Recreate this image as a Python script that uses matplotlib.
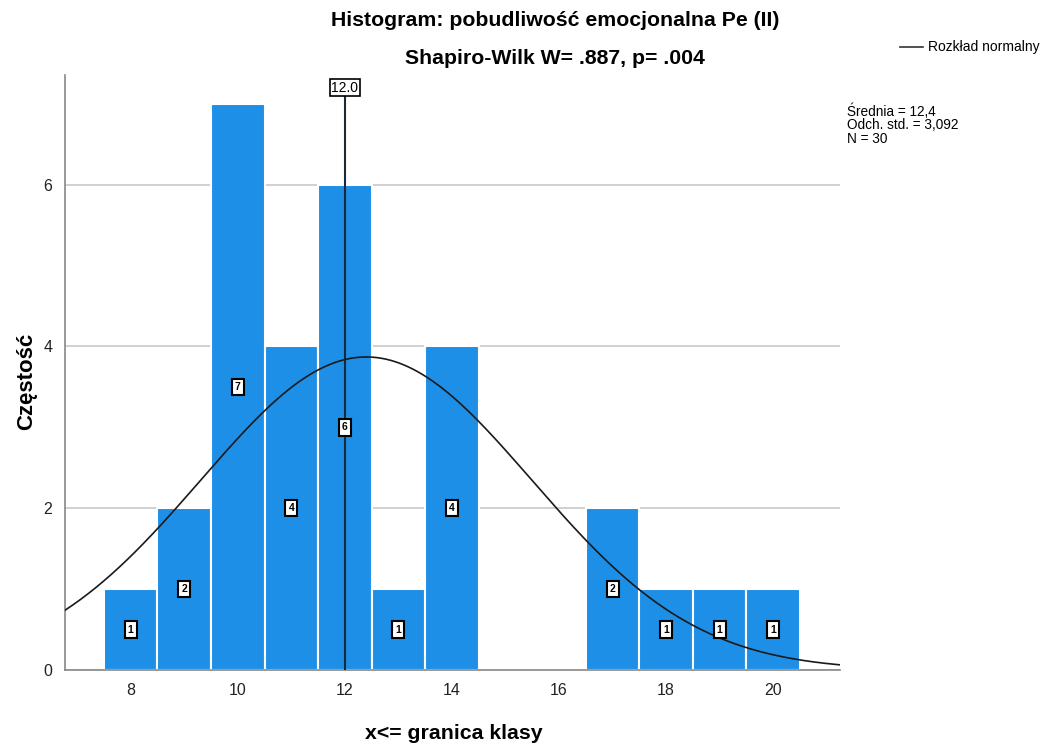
import matplotlib.pyplot as plt
import numpy as np

plt.rcParams['font.family'] = ['Liberation Sans', 'DejaVu Sans']

# class upper bounds and their frequencies
classes = [8, 9, 10, 11, 12, 13, 14, 15, 16, 17, 18, 19, 20]
counts = [1, 2, 7, 4, 6, 1, 4, 0, 0, 2, 1, 1, 1]
mean = 12.4
sd = 3.092
n = 30
median = 12.0
xticks = [8, 10, 12, 14, 16, 18, 20]
yticks = [0, 2, 4, 6]

fig = plt.figure(figsize=(10.45, 7.47), dpi=100)
fig.set_facecolor('w')
ax = fig.add_axes([0.062, 0.103, 0.742, 0.797])

ax.set_axisbelow(True)
ax.yaxis.grid(True, color='#c8c8c8', linewidth=1.2)
ax.bar(classes, counts, width=1.0, color='#1e8fe6', edgecolor='white', linewidth=1.5, zorder=2)

# frequency labels in the middle of each bar
for x, c in zip(classes, counts):
    if c > 0:
        ax.text(x, c / 2, str(c), ha='center', va='center', fontsize=7.5, zorder=5,
                fontweight='bold',
                bbox=dict(boxstyle='square,pad=0.3', fc='white', ec='black', lw=1.5))

# normal curve scaled to counts (bin width 1)
xs = np.linspace(6.77, 21.25, 300)
ys = n * np.exp(-0.5 * ((xs - mean) / sd) ** 2) / (sd * np.sqrt(2 * np.pi))
ax.plot(xs, ys, color='#1a1a1a', linewidth=1.2, zorder=4)

# median reference line
ax.plot([median, median], [0, 7.2], color='#1a2a3a', linewidth=1.5, zorder=3)
ax.text(median, 7.2, '%.1f' % median, ha='center', va='center', fontsize=10, zorder=5,
        bbox=dict(boxstyle='square,pad=0.12', fc='white', ec='black', lw=1.2))

ax.set_xlim(6.77, 21.25)
ax.set_ylim(0, 7.36)
ax.set_xticks(xticks)
ax.set_yticks(yticks)
ax.tick_params(length=0, labelsize=11.5, colors='#222222')
ax.tick_params(axis='x', pad=9)
ax.tick_params(axis='y', pad=9)
for s in ['top', 'right']:
    ax.spines[s].set_visible(False)
for s in ['left', 'bottom']:
    ax.spines[s].set_color('#888888')
    ax.spines[s].set_linewidth(1.2)

fig.text(0.025, 0.49, 'Częstość', rotation=90, ha='center', va='center',
         fontsize=16, fontweight='bold')
fig.text(0.434, 0.018, 'x<= granica klasy', ha='center', va='center',
         fontsize=15.3, fontweight='bold')

fig.text(0.531, 0.972, 'Histogram: pobudliwość emocjonalna Pe (II)', ha='center', va='center',
         fontsize=15.3, fontweight='bold')
fig.text(0.531, 0.922, 'Shapiro-Wilk W= .887, p= .004', ha='center', va='center',
         fontsize=15.3, fontweight='bold')

# legend entry for the normal curve
fig.add_artist(plt.Line2D([0.861, 0.883], [0.937, 0.937], color='#333333', linewidth=1.2))
fig.text(0.888, 0.937, 'Rozkład normalny', ha='left', va='center', fontsize=10)

fig.text(0.811, 0.862, 'Średnia = 12,4\nOdch. std. = 3,092\nN = 30', ha='left', va='top',
         fontsize=9.8, linespacing=0.98)

plt.savefig('out.png', dpi=100)
